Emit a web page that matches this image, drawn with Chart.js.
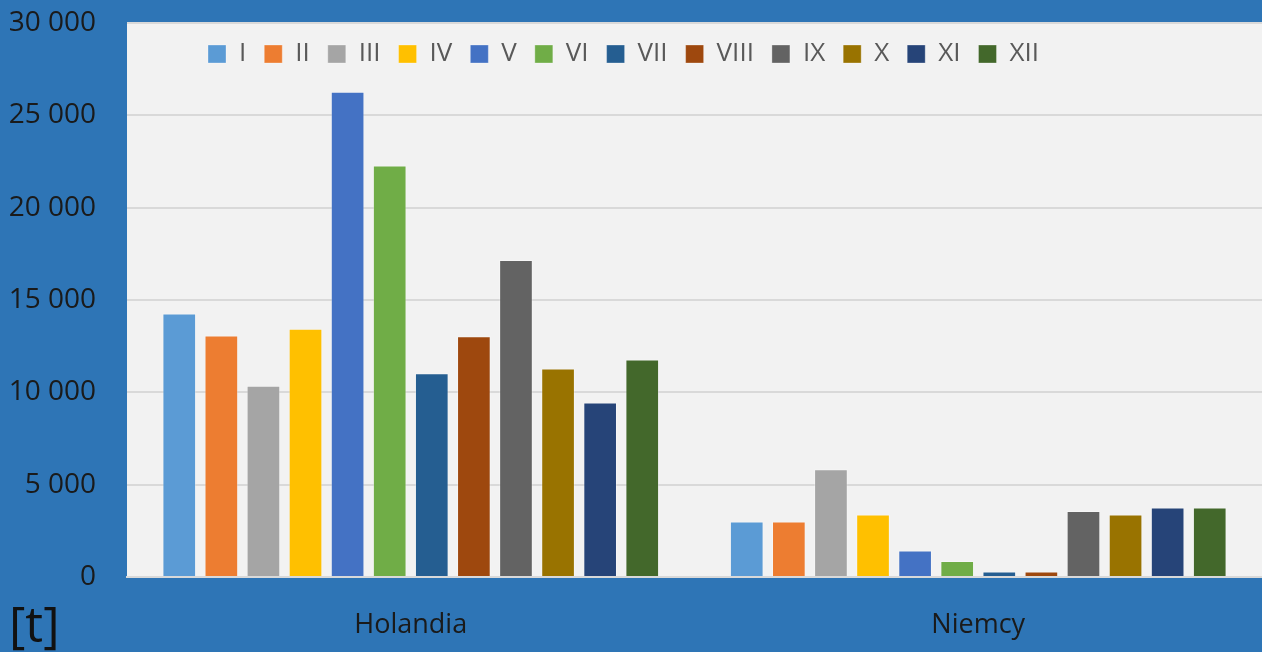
<!DOCTYPE html>
<html>
<head>
<meta charset="utf-8">
<script src="https://cdn.jsdelivr.net/npm/chart.js@4.4.1/dist/chart.umd.min.js"></script>
<style>
    html, body { margin: 0; padding: 0; background: #2e75b6; }
    #wrap { width: 1262px; height: 652px; }
</style>
</head>
<body>
<div id="wrap"><canvas id="chart" width="1262" height="652"></canvas></div>
<script>
// Monthly tonnage by country — Excel-style column chart on a blue frame.

const COUNTRIES = ['Holandia', 'Niemcy'];
const MONTHS = ['I', 'II', 'III', 'IV', 'V', 'VI', 'VII', 'VIII', 'IX', 'X', 'XI', 'XII'];

// one value per country for each month, [Holandia, Niemcy]
const M_I = [14270, 3010];
const M_II = [13080, 3010];
const M_III = [10350, 5830];
const M_IV = [13440, 3380];
const M_V = [26280, 1430];
const M_VI = [22290, 860];
const M_VII = [11040, 300];
const M_VIII = [13040, 300];
const M_IX = [17160, 3570];
const M_X = [11290, 3380];
const M_XI = [9450, 3760];
const M_XII = [11780, 3760];

const SERIES = [M_I, M_II, M_III, M_IV, M_V, M_VI, M_VII, M_VIII, M_IX, M_X, M_XI, M_XII];

const Y_TICKS = [0, 5000, 10000, 15000, 20000, 25000, 30000];

const COLORS = ['#5b9bd5', '#ed7d31', '#a5a5a5', '#ffc000', '#4472c4', '#70ad47',
    '#255e91', '#9e480e', '#636363', '#997300', '#264478', '#43682b'];

const FRAME = '#2e75b6';
const PLOT_BG = '#f2f2f2';
const GRID = '#d9d9d9';
const FONT = "'Open Sans', sans-serif";

Chart.defaults.font.family = FONT;

const formatTick = v => v.toLocaleString('en-US').replace(/,/g, ' ');

// frame + plot background, and the unit label in the corner
const framePlugin = {
    id: 'frame',
    beforeDraw(chart) {
        const { ctx, chartArea: a } = chart;
        ctx.save();
        ctx.fillStyle = FRAME;
        ctx.fillRect(0, 0, chart.width, chart.height);
        ctx.fillStyle = PLOT_BG;
        ctx.fillRect(a.left, a.top - 1, a.right - a.left, a.bottom - a.top + 2);
        ctx.restore();
    },
    afterDraw(chart) {
        const { ctx } = chart;
        ctx.save();
        ctx.fillStyle = '#111';
        ctx.font = '50px ' + FONT;
        ctx.textAlign = 'left';
        ctx.textBaseline = 'alphabetic';
        ctx.fillText('[t]', 9, 642);
        ctx.restore();
    },
};

// horizontal legend that takes no layout space and sits inside the plot
const legendInside = {
    id: 'legendInside',
    beforeLayout(chart) {
        const lg = chart.legend;
        if (!lg || lg._inside) return;
        const fit = lg.fit.bind(lg);
        lg.fit = function () { fit(); this.height = 0; };
        lg._inside = true;
    },
    afterLayout(chart) {
        const lg = chart.legend;
        if (!lg) return;
        lg.left = chart.chartArea.left + 63;
        lg.right = chart.chartArea.right;
        lg.top = chart.chartArea.top;
        lg.bottom = lg.top + 70;
    },
};

new Chart(document.getElementById('chart'), {
    type: 'bar',
    data: {
        labels: COUNTRIES,
        datasets: SERIES.map((values, i) => ({
            label: MONTHS[i],
            data: values,
            backgroundColor: COLORS[i],
            borderColor: 'rgba(255, 255, 255, 0.3)',
            borderWidth: 1,
            categoryPercentage: 0.89,
            barPercentage: 0.8,
        })),
    },
    options: {
        responsive: false,
        animation: false,
        layout: { padding: { top: 0, right: 0, bottom: 0, left: 0 } },
        plugins: {
            legend: {
                position: 'top',
                align: 'start',
                labels: {
                    boxWidth: 18,
                    boxHeight: 18,
                    padding: 18,
                    color: '#595959',
                    font: { size: 26 },
                },
            },
            tooltip: { enabled: false },
        },
        scales: {
            x: {
                grid: { display: false },
                border: { display: true, color: GRID, width: 2 },
                ticks: { color: '#1a1a1a', font: { size: 27 }, padding: 24 },
                afterFit(scale) { scale.height = 75; },
            },
            y: {
                min: 0,
                max: 30000,
                afterBuildTicks(scale) { scale.ticks = Y_TICKS.map(v => ({ value: v })); },
                grid: { color: GRID, lineWidth: 2, drawTicks: false },
                border: { display: false },
                ticks: {
                    color: '#1a1a1a',
                    font: { size: 28 },
                    padding: 31,
                    callback: v => formatTick(v),
                },
                afterFit(scale) {
                    scale.width = 127;
                    scale.paddingTop = 23;
                    scale.paddingBottom = 0;
                },
            },
        },
    },
    plugins: [framePlugin, legendInside],
});
</script>
</body>
</html>
